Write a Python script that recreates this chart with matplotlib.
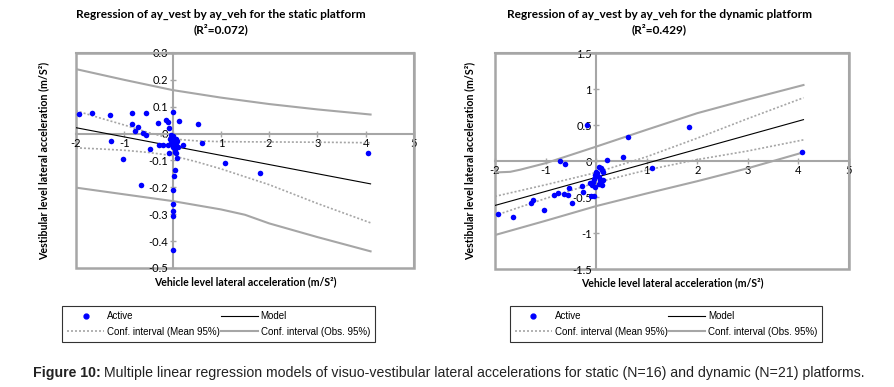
import matplotlib
matplotlib.use("Agg")
import matplotlib.pyplot as plt
from matplotlib import font_manager
from matplotlib.patches import Rectangle
from matplotlib.lines import Line2D

# static platform : points
static_x = [-1.94, -1.66, -1.30, -0.85, -0.54, -0.30, -0.14, -0.10, 0.00, -0.08,
            0.13, 0.52, -0.83, -0.72, -0.78, -0.62, -0.56, -1.28, -0.47, -0.28,
            -0.19, -1.02, -0.66, 0.61, 1.09, 1.81, 4.05, 0.22, -0.08, 0.08,
            0.10, 0.05, 0.03, 0.00, 0.00, 0.00, 0.00, 0.00,
            -0.03, 0.01, 0.07, -0.06, -0.02, 0.10, -0.09, 0.00, 0.05, 0.12,
            0.01, 0.05, 0.08, -0.04]
static_y = [0.073, 0.076, 0.070, 0.076, 0.076, 0.040, 0.049, 0.044, 0.080, 0.021,
            0.046, 0.035, 0.035, 0.026, 0.010, 0.004, -0.007, -0.029, -0.056, -0.044,
            -0.044, -0.096, -0.190, -0.034, -0.109, -0.146, -0.071, -0.044, -0.071, -0.071,
            -0.091, -0.134, -0.158, -0.208, -0.262, -0.289, -0.307, -0.432,
            -0.006, -0.009, -0.019, -0.019, -0.027, -0.027, -0.044, -0.044, -0.056, -0.050,
            -0.050, -0.068, -0.035, -0.036]

static_model_x = [-2, 4.1]
static_model_y = [0.022, -0.187]
static_mean_x = [-2, -1.5, -1, -0.5, 0, 0.5, 1, 2, 3, 4.1]
static_mean_up = [0.085, 0.058, 0.032, 0.004, -0.020, -0.027, -0.030, -0.031, -0.032, -0.034]
static_mean_lo = [-0.053, -0.057, -0.062, -0.070, -0.082, -0.105, -0.131, -0.190, -0.260, -0.332]
static_obs_x = [-2, -1, 0, 1, 1.5, 2, 3, 4.1]
static_obs_up = [0.240, 0.200, 0.162, 0.134, 0.122, 0.110, 0.090, 0.071]
static_obs_lo = [-0.201, -0.226, -0.251, -0.282, -0.302, -0.334, -0.385, -0.438]

# dynamic platform
dyn_x = [-0.18, 0.63, 1.83, 4.08, -0.71, -0.61, 0.22, 0.53, 1.10, -1.94,
         -1.65, -1.29, -1.25, -1.04, -0.83, -0.76, -0.63, -0.56, -0.53, -0.47,
         -0.28, -0.27, -0.11, -0.04, -0.12, -0.09,
         0.05, 0.09, 0.00, 0.145, -0.05, 0.05, 0.13, -0.07, 0.05, -0.02,
         0.11, 0.02, 0.07, -0.03, 0.12]
dyn_y = [0.50, 0.33, 0.47, 0.126, 0.0, -0.047, 0.014, 0.051, -0.098, -0.738,
         -0.771, -0.584, -0.547, -0.678, -0.477, -0.439, -0.458, -0.467, -0.369, -0.584,
         -0.346, -0.435, -0.491, -0.491, -0.304, -0.336,
         -0.079, -0.103, -0.150, -0.150, -0.243, -0.220, -0.266, -0.290, -0.313, -0.360,
         -0.327, -0.170, -0.260, -0.200, -0.120]

dyn_model_x = [-2, 4.1]
dyn_model_y = [-0.617, 0.575]
dyn_mean_x = [-2, -1, 0, 1, 2, 3, 4.1]
dyn_mean_up = [-0.491, -0.330, -0.160, 0.060, 0.318, 0.590, 0.879]
dyn_mean_lo = [-0.757, -0.520, -0.300, -0.125, 0.020, 0.140, 0.294]
dyn_obs_x = [-2, -1.7, -1.5, -1, 0, 1, 2, 3, 4.1]
dyn_obs_up = [-0.159, -0.150, -0.120, -0.030, 0.200, 0.435, 0.665, 0.855, 1.056]
dyn_obs_x2 = [-2, -1, 0, 1, 2, 3, 4.1]
dyn_obs_lo = [-1.028, -0.830, -0.626, -0.450, -0.280, -0.100, 0.121]

x_ticks = [-2, -1, 0, 1, 2, 3, 4, 5]
x_labels = ["-2", "-1", "", "1", "2", "3", "4", "5"]
static_yticks = [-0.5, -0.4, -0.3, -0.2, -0.1, 0, 0.1, 0.2, 0.3]
static_ylabels = ["-0.5", "-0.4", "-0.3", "-0.2", "-0.1", "0", "0.1", "0.2", "0.3"]
dyn_yticks = [-1.5, -1, -0.5, 0, 0.5, 1, 1.5]
dyn_ylabels = ["-1.5", "-1", "-0.5", "0", "0.5", "1", "1.5"]

GRAY = "#a6a6a6"
BLUE = "#0000ff"


def has_font(name):
    try:
        font_manager.findfont(name, fallback_to_default=False)
        return True
    except Exception:
        return False


chart_font = "Lato" if has_font("Lato") else "DejaVu Sans"
plt.rcParams["font.family"] = [chart_font, "DejaVu Sans"]


def draw_panel(ax, px, py, mx, my, cx, cup, clo, ox, oup, ox2, olo, yticks, ylabels, ylim, ylab_x):
    ax.plot(ox, oup, color=GRAY, lw=1.5, zorder=2)
    ax.plot(ox2, olo, color=GRAY, lw=1.5, zorder=2)
    ax.plot(cx, cup, color=GRAY, lw=1.2, ls=(0, (1.2, 1.2)), zorder=2)
    ax.plot(cx, clo, color=GRAY, lw=1.2, ls=(0, (1.2, 1.2)), zorder=2)
    ax.plot(mx, my, color="black", lw=0.8, zorder=3)
    ax.scatter(px, py, s=16, color=BLUE, zorder=4, linewidths=0)

    ax.set_xlim(-2, 5)
    ax.set_ylim(*ylim)
    ax.spines["left"].set_position(("data", 0))
    ax.spines["bottom"].set_position(("data", 0))
    for sp in ax.spines.values():
        sp.set_color(GRAY)
        sp.set_linewidth(1.5)
    ax.add_patch(Rectangle((0, 0), 1, 1, transform=ax.transAxes, fill=False,
                           edgecolor=GRAY, lw=1.8, clip_on=False, zorder=1))
    ax.set_xticks(x_ticks)
    ax.set_xticklabels(x_labels)
    ax.set_yticks(yticks)
    ax.set_yticklabels(ylabels)
    ax.tick_params(axis="both", colors=GRAY, labelcolor="black", labelsize=8,
                   direction="inout", length=4, width=1, pad=1)

    ax.set_xlabel("Vehicle level lateral acceleration (m/S²)", fontsize=7.6, fontweight="bold")
    ax.xaxis.set_label_coords(0.5, -0.036)
    ax.set_ylabel("Vestibular level lateral acceleration (m/S²)", fontsize=7.7, fontweight="bold")
    ax.yaxis.set_label_coords(ylab_x, 0.5)


fig = plt.figure(figsize=(8.95, 3.87), dpi=100)
ax1 = fig.add_axes([0.0849, 0.3075, 0.3777, 0.5556])
ax2 = fig.add_axes([0.5531, 0.3049, 0.3955, 0.558])

draw_panel(ax1, static_x, static_y, static_model_x, static_model_y,
           static_mean_x, static_mean_up, static_mean_lo,
           static_obs_x, static_obs_up, static_obs_x, static_obs_lo,
           static_yticks, static_ylabels, (-0.5, 0.3), -0.08)
draw_panel(ax2, dyn_x, dyn_y, dyn_model_x, dyn_model_y,
           dyn_mean_x, dyn_mean_up, dyn_mean_lo,
           dyn_obs_x, dyn_obs_up, dyn_obs_x2, dyn_obs_lo,
           dyn_yticks, dyn_ylabels, (-1.5, 1.5), -0.056)

fig.text(0.247, 0.943, "Regression of ay_vest by ay_veh for the static platform\n(R²=0.072)",
         ha="center", va="center", fontsize=8.6, fontweight="bold", linespacing=1.3)
fig.text(0.737, 0.943, "Regression of ay_vest by ay_veh for the dynamic platform\n(R²=0.429)",
         ha="center", va="center", fontsize=8.6, fontweight="bold", linespacing=1.3)

# legends under each chart
handles = [Line2D([], [], ls="", marker="o", color=BLUE, markersize=3.5),
           Line2D([], [], color=GRAY, lw=1.2, ls=(0, (1.2, 1.2))),
           Line2D([], [], color="black", lw=0.8),
           Line2D([], [], color=GRAY, lw=1.5)]
names = ["Active", "Conf. interval (Mean 95%)", "Model", "Conf. interval (Obs. 95%)"]
for cx_fig in [0.2442, 0.7443]:
    leg = fig.legend(handles, names, ncol=2, loc="center", bbox_to_anchor=(cx_fig, 0.163),
                     frameon=True, fancybox=False, edgecolor="black", handlelength=3.8,
                     handletextpad=0.3, columnspacing=0.1, labelspacing=0.6,
                     borderpad=0.5, prop={"family": "Liberation Sans", "size": 7})
    leg.get_frame().set_linewidth(0.8)

# caption
t = fig.text(0.037, 0.036, "Figure 10:", fontsize=10.2, fontweight="bold",
             family="Liberation Sans", color="#222222", va="center")
fig.canvas.draw()
bb = t.get_window_extent(renderer=fig.canvas.get_renderer())
x_next = bb.x1 / fig.bbox.width
fig.text(x_next + 0.004, 0.036,
         "Multiple linear regression models of visuo-vestibular lateral accelerations for static (N=16) and dynamic (N=21) platforms.",
         fontsize=10.2, family="Liberation Sans", color="#222222", va="center")

fig.savefig("out.png", dpi=100)
